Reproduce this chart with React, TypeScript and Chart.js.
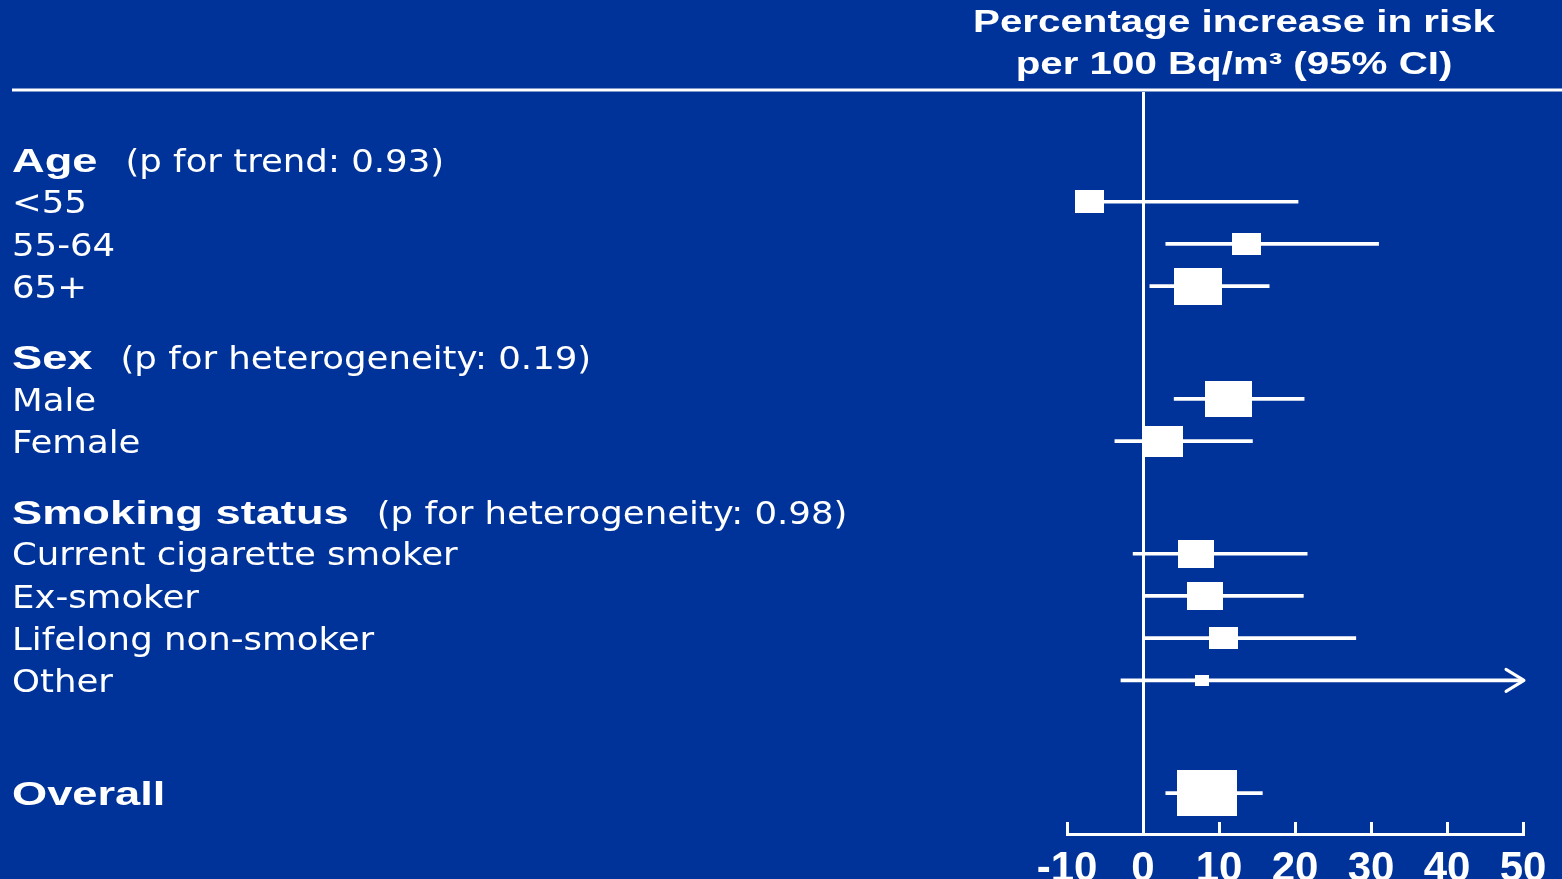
import { useEffect, useRef } from 'react';
import { Chart, registerables } from 'chart.js';

Chart.register(...registerables);

// ---- data ---------------------------------------------------------------
const groupTitles = ['Age', 'Sex', 'Smoking status'];
const groupTests = ['(p for trend: 0.93)', '(p for heterogeneity: 0.19)', '(p for heterogeneity: 0.98)'];
const groupSizes = [3, 2, 4];

const categories = [
  '<55', '55-64', '65+',
  'Male', 'Female',
  'Current cigarette smoker', 'Ex-smoker', 'Lifelong non-smoker', 'Other',
  'Overall',
];
// percentage increase in risk per 100 Bq/m3 with 95% CI
const estimates = [-7.0, 13.6, 7.3, 11.2, 2.6, 7.0, 8.2, 10.6, 7.7, 8.4];
const lowerCI = [-8.5, 3.0, 0.9, 4.1, -3.7, -1.3, 0.2, 0.2, -2.9, 3.0];
const upperCI = [20.4, 31.0, 16.6, 21.2, 14.4, 21.6, 21.1, 28.0, 75.0, 15.7];
// relative weight of each estimate (overall = 100); box area follows it
const weights = [24, 23, 64, 62, 44, 36, 36, 23, 5.3, 100];

const xTicks = [-10, 0, 10, 20, 30, 40, 50];
const titleLines = ['Percentage increase in risk', 'per 100 Bq/m\u00B3 (95% CI)'];

// ---- look ---------------------------------------------------------------
const BG = '#003399';
const FG = '#ffffff';
const BOLD_FONT = 'Liberation Sans';
const TEXT_FONT = 'DejaVu Sans';
const WIDTH = 1562;
const HEIGHT = 879;

// vertical layout in text-line units
const FIRST_ROW = 1.6;
const GROUP_GAP = 1.67;
const OVERALL_GAP = 2.67;
const headerRows: number[] = [];
const itemRows: number[] = [];
{
  let pos = FIRST_ROW;
  groupSizes.forEach((n, g) => {
    if (g > 0) pos += GROUP_GAP;
    headerRows.push(pos);
    for (let i = 0; i < n; i++) {
      pos += 1;
      itemRows.push(pos);
    }
  });
  pos += OVERALL_GAP;
  itemRows.push(pos);
}
const Y_MAX = 17.58;

const MAX_BOX_H = 46.3;
const BOX_ASPECT = 1.3;

function boxImage(weight: number): HTMLCanvasElement {
  const h = MAX_BOX_H * Math.sqrt(weight / 100);
  const c = document.createElement('canvas');
  c.width = Math.max(2, Math.round(h * BOX_ASPECT));
  c.height = Math.max(2, Math.round(h));
  const g = c.getContext('2d')!;
  g.fillStyle = FG;
  g.fillRect(0, 0, c.width, c.height);
  return c;
}

function drawText(
  ctx: CanvasRenderingContext2D,
  text: string,
  x: number,
  y: number,
  font: string,
  sx: number,
  align: CanvasTextAlign = 'left',
): number {
  ctx.save();
  ctx.font = font;
  ctx.fillStyle = FG;
  ctx.textAlign = align;
  ctx.textBaseline = 'alphabetic';
  ctx.translate(x, y);
  ctx.scale(sx, 1);
  ctx.fillText(text, 0, 0);
  const w = ctx.measureText(text).width * sx;
  ctx.restore();
  return w;
}

const backgroundPlugin = {
  id: 'slideBackground',
  beforeDraw(chart: Chart) {
    const { ctx, width, height } = chart;
    ctx.save();
    ctx.fillStyle = BG;
    ctx.fillRect(0, 0, width, height);
    ctx.restore();
  },
};

const forestTextPlugin = {
  id: 'forestText',
  afterDraw(chart: Chart) {
    const { ctx, chartArea, width } = chart;
    const yScale = chart.scales.y;
    const left = 12;
    const boldSize = 34;
    const textSize = 32;
    const boldFont = `bold ${boldSize}px "${BOLD_FONT}"`;
    const textFont = `${textSize}px "${TEXT_FONT}"`;
    const boldShift = boldSize * 0.716 / 2;
    const textShift = textSize * 0.729 / 2;
    const boldSx = 1.33;
    const textSx = 1.11;

    // column title
    const titleX = chartArea.left + 167;
    drawText(ctx, titleLines[0], titleX, 32, `bold 31px "${BOLD_FONT}"`, 1.3, 'center');
    drawText(ctx, titleLines[1], titleX, 74, `bold 31px "${BOLD_FONT}"`, 1.3, 'center');

    // rule under the title
    ctx.save();
    ctx.strokeStyle = FG;
    ctx.lineWidth = 3;
    ctx.beginPath();
    ctx.moveTo(left, 90);
    ctx.lineTo(width, 90);
    ctx.stroke();
    ctx.restore();

    // group headers with their tests
    groupTitles.forEach((t, g) => {
      const y = yScale.getPixelForValue(headerRows[g]);
      const w = drawText(ctx, t, left, y + boldShift, boldFont, boldSx);
      drawText(ctx, groupTests[g], left + w + 28, y + boldShift, textFont, textSx);
    });

    // row labels
    categories.forEach((c, i) => {
      const y = yScale.getPixelForValue(itemRows[i]);
      if (i === categories.length - 1) {
        drawText(ctx, c, left, y + boldShift, boldFont, boldSx);
      } else {
        drawText(ctx, c, left, y + textShift, textFont, textSx);
      }
    });
  },
};

const arrowPlugin = {
  id: 'ciArrow',
  afterDatasetsDraw(chart: Chart) {
    const { ctx } = chart;
    const xScale = chart.scales.x;
    const yScale = chart.scales.y;
    const max = xScale.max;
    ctx.save();
    ctx.strokeStyle = FG;
    ctx.lineWidth = 3;
    ctx.lineCap = 'round';
    ctx.lineJoin = 'round';
    upperCI.forEach((hi, i) => {
      if (hi <= max) return;
      const tip = xScale.getPixelForValue(max) + 1;
      const y = yScale.getPixelForValue(itemRows[i]);
      ctx.beginPath();
      ctx.moveTo(tip - 18, y - 11);
      ctx.lineTo(tip, y);
      ctx.lineTo(tip - 18, y + 11);
      ctx.stroke();
    });
    ctx.restore();
  },
};

export default function App() {
  const canvasRef = useRef<HTMLCanvasElement | null>(null);

  useEffect(() => {
    document.body.style.margin = '0';
    document.body.style.background = BG;
    document.body.style.overflow = 'hidden';
    const canvas = canvasRef.current;
    if (!canvas) return;

    const chart = new Chart(canvas, {
      type: 'scatter',
      data: {
        datasets: [
          {
            type: 'bar',
            label: '95% CI',
            indexAxis: 'y',
            data: itemRows.map((y, i) => ({ x: [lowerCI[i], upperCI[i]], y })) as any,
            backgroundColor: FG,
            borderWidth: 0,
            barThickness: 3,
            grouped: false,
            order: 2,
          } as any,
          {
            type: 'scatter',
            label: 'Estimate',
            data: itemRows.map((y, i) => ({ x: estimates[i], y })),
            pointStyle: weights.map(boxImage) as any,
            pointRadius: 5,
            pointHoverRadius: 5,
            order: 1,
          },
        ],
      },
      options: {
        animation: false,
        responsive: false,
        devicePixelRatio: 1,
        events: [],
        layout: { padding: { left: 1067, right: 39, top: 92, bottom: 0 } },
        plugins: {
          legend: { display: false },
          tooltip: { enabled: false },
          title: { display: false },
        },
        scales: {
          x: {
            type: 'linear',
            offset: false,
            min: xTicks[0],
            max: xTicks[xTicks.length - 1],
            afterBuildTicks: (scale: any) => {
              scale.ticks = xTicks.map((v) => ({ value: v }));
            },
            afterFit: (scale: any) => {
              scale.height = 45;
              scale.paddingLeft = 0;
              scale.paddingRight = 0;
            },
            border: { display: true, color: FG, width: 3 },
            grid: {
              offset: false,
              drawOnChartArea: true,
              drawTicks: true,
              tickLength: -12,
              tickColor: FG,
              tickWidth: 3,
              lineWidth: 3,
              color: (ctx: any) => (ctx.tick && ctx.tick.value === 0 ? FG : 'rgba(0,0,0,0)'),
            },
            ticks: {
              color: FG,
              padding: 22,
              autoSkip: false,
              maxRotation: 0,
              minRotation: 0,
              font: { family: BOLD_FONT, size: 42, weight: 'bold' },
            },
          },
          y: {
            type: 'linear',
            display: false,
            offset: false,
            grid: { offset: false },
            reverse: true,
            min: 0,
            max: Y_MAX,
          },
        },
      },
      plugins: [backgroundPlugin, forestTextPlugin, arrowPlugin],
    });

    return () => chart.destroy();
  }, []);

  return (
    <div style={{ width: WIDTH, height: HEIGHT, background: BG }}>
      <canvas ref={canvasRef} width={WIDTH} height={HEIGHT} style={{ display: 'block' }} />
    </div>
  );
}
